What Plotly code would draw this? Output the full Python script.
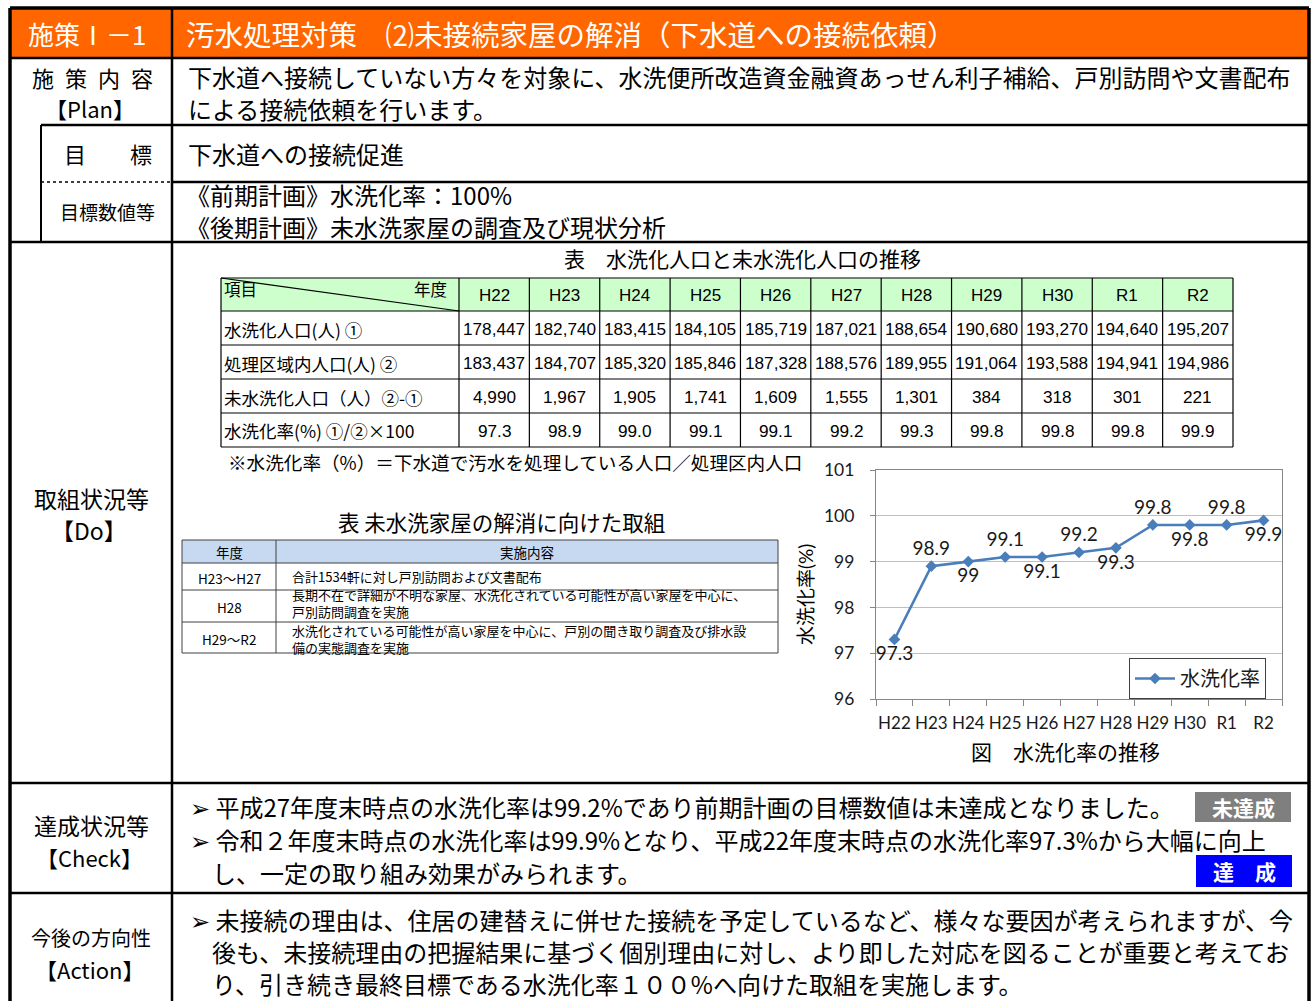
import plotly.graph_objects as go

W, H = 1314, 1001

# ---------------- data ----------------
years = ["H22", "H23", "H24", "H25", "H26", "H27", "H28", "H29", "H30", "R1", "R2"]
flush_pop = [178447, 182740, 183415, 184105, 185719, 187021, 188654, 190680, 193270, 194640, 195207]
area_pop = [183437, 184707, 185320, 185846, 187328, 188576, 189955, 191064, 193588, 194941, 194986]
unflushed_pop = [4990, 1967, 1905, 1741, 1609, 1555, 1301, 384, 318, 301, 221]
flush_rate = [97.3, 98.9, 99.0, 99.1, 99.1, 99.2, 99.3, 99.8, 99.8, 99.8, 99.9]
label_pos = ["bottom center", "top center", "bottom center", "top center", "bottom center",
             "top center", "bottom center", "top center", "bottom center", "top center", "bottom center"]
row_labels = ["水洗化人口(人) ①", "処理区域内人口(人) ②", "未水洗化人口（人）②-①", "水洗化率(%) ①/②×100"]
y_ticks = [96, 97, 98, 99, 100, 101]

measure_periods = ["H23～H27", "H28", "H29～R2"]
measure_lines = [
    ["合計1534軒に対し戸別訪問および文書配布"],
    ["長期不在で詳細が不明な家屋、水洗化されている可能性が高い家屋を中心に、", "戸別訪問調査を実施"],
    ["水洗化されている可能性が高い家屋を中心に、戸別の聞き取り調査及び排水設", "備の実態調査を実施"],
]

header_no = "施策Ⅰ－1"
header_title = "汚水処理対策　⑵未接続家屋の解消（下水道への接続依頼）"
plan_lines = ["下水道へ接続していない方々を対象に、水洗便所改造資金融資あっせん利子補給、戸別訪問や文書配布",
              "による接続依頼を行います。"]
goal_text = "下水道への接続促進"
target_lines = ["《前期計画》水洗化率：100%", "《後期計画》未水洗家屋の調査及び現状分析"]
check_lines = ["➢ 平成27年度末時点の水洗化率は99.2%であり前期計画の目標数値は未達成となりました。",
               "➢ 令和２年度末時点の水洗化率は99.9%となり、平成22年度末時点の水洗化率97.3%から大幅に向上",
               "し、一定の取り組み効果がみられます。"]
action_lines = ["➢ 未接続の理由は、住居の建替えに併せた接続を予定しているなど、様々な要因が考えられますが、今",
                "後も、未接続理由の把握結果に基づく個別理由に対し、より即した対応を図ることが重要と考えてお",
                "り、引き続き最終目標である水洗化率１００%へ向けた取組を実施します。"]

JP = "Noto Sans CJK JP"
NUM = "Liberation Sans, Noto Sans CJK JP"
CH = "Lato, Noto Sans CJK JP"

# ---------------- helpers (pixel -> paper) ----------------
def X(p):
    return p / W


def Y(p):
    return 1 - p / H


shapes, annots = [], []


def seg(x0, y0, x1, y1, w=1, color="black", dash="solid"):
    shapes.append(dict(type="line", xref="paper", yref="paper", x0=X(x0), y0=Y(y0), x1=X(x1), y1=Y(y1),
                       line=dict(color=color, width=w, dash=dash)))


def box(x0, y0, x1, y1, fill="rgba(0,0,0,0)", color="black", w=1):
    shapes.append(dict(type="rect", xref="paper", yref="paper", x0=X(x0), y0=Y(y1), x1=X(x1), y1=Y(y0),
                       fillcolor=fill, line=dict(color=color, width=w), layer="below"))


def txt(x, y, s, size, color="black", anchor="left", family=JP, bold=False, angle=0):
    if bold:
        s = "<b>" + s + "</b>"
    annots.append(dict(xref="paper", yref="paper", x=X(x), y=Y(y), text=s, showarrow=False,
                       xanchor=anchor, yanchor="middle", textangle=angle, borderpad=0,
                       align="left" if anchor == "left" else "center",
                       font=dict(size=size, color=color, family=family)))


# ---------------- frame ----------------
L, R, T = 10, 1309, 8
C1 = 172
box(L, T, R, 58, fill="#FF6600", color="rgba(0,0,0,0)", w=0)
seg(L, T, R, T, 3.5)
seg(L, T, L, H, 3.5)
seg(R, T, R, H, 3.5)
seg(C1, T, C1, H, 2.5)
seg(L, 58, R, 58, 2.5)
seg(41, 125, R, 125, 2.5)
seg(41, 182, C1, 182, 1.5, dash="dot")
seg(C1, 182, R, 182, 2.5)
seg(41, 125, 41, 242, 2)
seg(L, 242, R, 242, 2.5)
seg(L, 783, R, 783, 2.5)
seg(L, 893, R, 893, 2.5)

# header
txt(87, 34, header_no, 26, color="white", anchor="center")
txt(185, 34, header_title, 28.5, color="white")

# labels column
ES = "\u2002"
txt(92, 77, ES.join("施策内容"), 22, anchor="center")
txt(90, 108, "【Plan】", 22, anchor="center")
txt(108, 153, "目　　標", 22, anchor="center")
txt(107, 212, "目標数値等", 19, anchor="center")
txt(91, 498, "取組状況等", 23, anchor="center")
txt(89, 530, "【Do】", 23, anchor="center")
txt(91, 825, "達成状況等", 23, anchor="center")
txt(89, 857, "【Check】", 22, anchor="center")
txt(91, 937, "今後の方向性", 20, anchor="center")
txt(89, 969, "【Action】", 22, anchor="center")

# body text
BS = 24
txt(187, 77, plan_lines[0], BS)
txt(187, 108, plan_lines[1], BS)
txt(187, 153, goal_text, BS)
txt(185, 194, target_lines[0], BS)
txt(185, 227, target_lines[1], BS)
for i, yy in enumerate([806, 839, 872]):
    txt(189 if i < 2 else 211, yy, check_lines[i], BS)
for i, yy in enumerate([919, 951, 983]):
    txt(189 if i == 0 else 211, yy, action_lines[i], BS)

# badges
box(1195, 792, 1291, 822, fill="#7F7F7F", color="#7F7F7F", w=0)
txt(1243, 807, "未達成", 21, color="white", anchor="center", bold=True)
box(1196, 855, 1292, 887, fill="#0000FF", color="#0000FF", w=0)
txt(1244, 871, "達　成", 21, color="white", anchor="center", bold=True)

# ---------------- table 1 ----------------
txt(742, 258, "表　水洗化人口と未水洗化人口の推移", 21, anchor="center")
tx0, tx1, tx2 = 221, 459, 1233
row_y = [278, 311, 345, 379, 413, 447]
cw = (tx2 - tx1) / len(years)
box(tx0, row_y[0], tx2, row_y[1], fill="#CCFFCC", color="rgba(0,0,0,0)", w=0)
for yy in row_y:
    seg(tx0, yy, tx2, yy, 1.2)
seg(tx0, row_y[0], tx0, row_y[-1], 1.2)
for j in range(len(years) + 1):
    xx = tx1 + j * cw
    seg(xx, row_y[0], xx, row_y[-1], 1.2)
seg(tx0, row_y[0], tx1, row_y[1], 1.2)
txt(223, 289, "項目", 16.5)
txt(448, 289, "年度", 16.5, anchor="right")
rows = [[f"{v:,}" for v in flush_pop], [f"{v:,}" for v in area_pop],
        [f"{v:,}" for v in unflushed_pop], [f"{v:.1f}" for v in flush_rate]]
for j, yr in enumerate(years):
    txt(tx1 + (j + 0.5) * cw, (row_y[0] + row_y[1]) / 2 + 1, yr, 17, anchor="center", family=NUM)
for i, lab in enumerate(row_labels):
    yc = (row_y[i + 1] + row_y[i + 2]) / 2 + 1
    txt(223, yc, lab, 17.5)
    for j in range(len(years)):
        txt(tx1 + (j + 0.5) * cw, yc, rows[i][j], 17.2, anchor="center", family=NUM)
txt(227, 461, "※水洗化率（%）＝下水道で汚水を処理している人口／処理区内人口", 18.6)

# ---------------- table 2 ----------------
txt(501, 521, "表 未水洗家屋の解消に向けた取組", 21.5, anchor="center")
ux0, ux1, ux2 = 182, 276, 778
urow = [540, 563, 590, 622, 653]
box(ux0, urow[0], ux2, urow[1], fill="#C6D9F1", color="rgba(0,0,0,0)", w=0)
for yy in urow:
    seg(ux0, yy, ux2, yy, 1, color="#404040")
for xx in (ux0, ux1, ux2):
    seg(xx, urow[0], xx, urow[-1], 1, color="#404040")
FS2 = 13
text_shift = [0, -3, 1.5]
txt((ux0 + ux1) / 2, 551.5, "年度", 13.5, anchor="center")
txt((ux1 + ux2) / 2, 551.5, "実施内容", 13.5, anchor="center")
for i, per in enumerate(measure_periods):
    y0, y1 = urow[i + 1], urow[i + 2]
    txt((ux0 + ux1) / 2, (y0 + y1) / 2 + 1, per, 13.5, anchor="center")
    txt(291, (y0 + y1) / 2 + text_shift[i], "<br>".join(measure_lines[i]), FS2)

# ---------------- chart ----------------
txt(805, 595, "水洗化率(%)", 19, anchor="center", angle=-90, family=CH)
txt(1065, 751, "図　水洗化率の推移", 21, anchor="center", family=CH)

fig = go.Figure()
fig.add_trace(go.Scatter(
    x=years, y=flush_rate, name="水洗化率", mode="lines+markers+text",
    line=dict(color="#4A7EBB", width=2.6),
    marker=dict(symbol="diamond", size=9, color="#4A7EBB"),
    texttemplate="%{y}", textposition=label_pos, cliponaxis=False,
    textfont=dict(size=19, color="#1a1a1a", family=CH),
))

fig.update_layout(
    width=W, height=H, margin=dict(l=0, r=0, t=0, b=0, pad=0, autoexpand=False),
    paper_bgcolor="white", plot_bgcolor="white",
    shapes=shapes, annotations=annots, showlegend=True,
    legend=dict(x=X(1129), y=Y(658), xanchor="left", yanchor="top", bgcolor="white",
                bordercolor="#404040", borderwidth=1, font=dict(size=20, family=CH, color="#1a1a1a"),
                itemwidth=40),
    xaxis=dict(domain=[X(876), X(1282)], type="category", range=[-0.5, len(years) - 0.5],
               automargin=False,
               showline=True, mirror=True, linecolor="#868686", linewidth=1.2,
               ticks="outside", tickson="boundaries", ticklen=6, tickcolor="#868686",
               tickangle=0,
               tickfont=dict(size=17, family=CH, color="#1a1a1a"), ticklabelstandoff=8,
               showgrid=False, zeroline=False, fixedrange=True),
    yaxis=dict(domain=[Y(699), Y(470)], range=[96, 101], tickvals=y_ticks,
               automargin=False,
               showline=True, mirror=True, linecolor="#868686", linewidth=1.2,
               ticks="outside", ticklen=5, tickcolor="#868686",
               gridcolor="#BFBFBF", gridwidth=1, zeroline=False,
               tickfont=dict(size=17.5, family=CH, color="#1a1a1a"), ticklabelstandoff=12,
               fixedrange=True),
)

page_fix = ("document.documentElement.style.margin='0';document.body.style.margin='0';"
            "document.documentElement.style.overflow='hidden';document.body.style.overflow='hidden';"
            "var g=document.getElementById('{plot_id}');g.style.position='absolute';"
            "g.style.left='0px';g.style.top='0px';")
fig.write_html("out.html", post_script=page_fix, config={"displayModeBar": False})
